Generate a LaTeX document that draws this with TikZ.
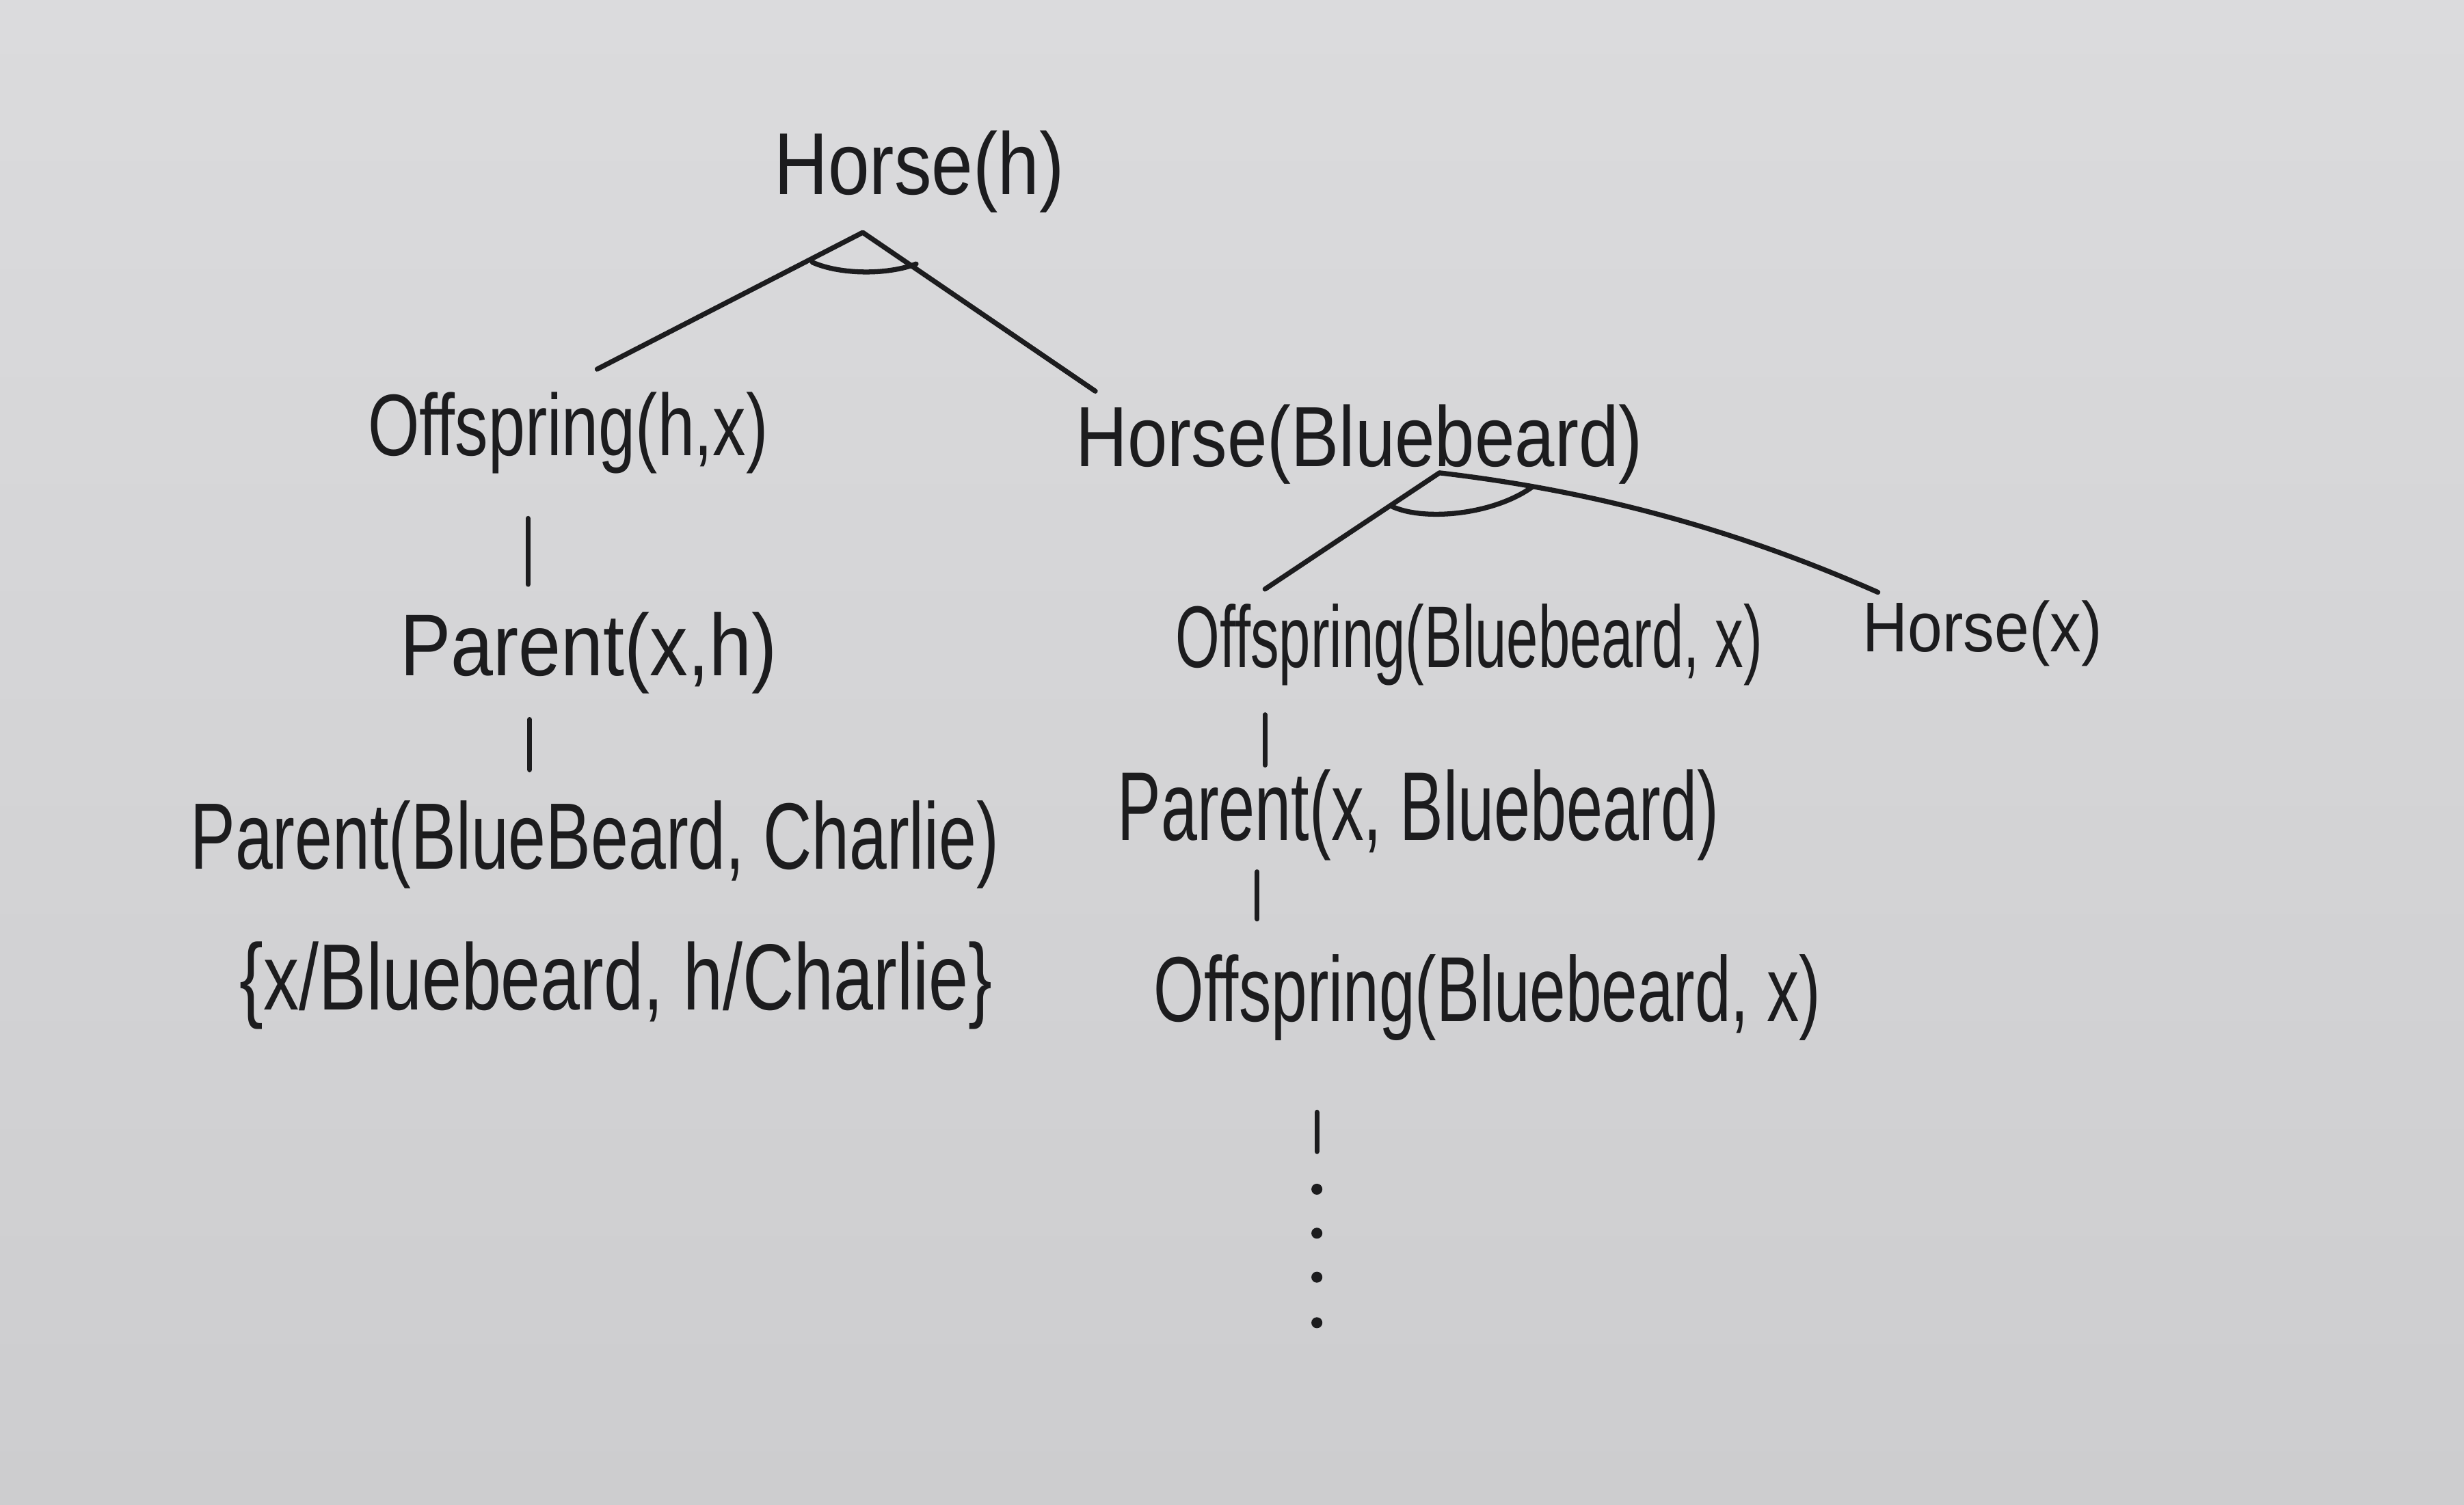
\documentclass[tikz,border=0pt]{standalone}
\usepackage{fontspec}
\setmainfont{Liberation Sans}
\usepackage{graphicx}
\definecolor{ink}{RGB}{28,28,30}
\definecolor{paperTop}{RGB}{219,219,221}
\definecolor{paperBot}{RGB}{205,205,207}
\newcommand{\hw}[3]{\fontsize{#1}{#1}\selectfont\scalebox{1}[#2]{#3}}
\begin{document}
\begin{tikzpicture}[
  lbl/.style={inner sep=0pt, anchor=base, text=ink},
  edge/.style={draw=ink, line width=0.9pt, line cap=round, line join=round},
  dotmark/.style={circle, fill=ink, inner sep=0pt, minimum size=0.7mm}
]
\shade[top color=paperTop, bottom color=paperBot] (0,0) rectangle (15.68,9.58);
\useasboundingbox (0,0) rectangle (15.68,9.58);

% text nodes
\node[lbl] (hA)  at (5.85, 8.34)   {\hw{13.5}{1.18}{Horse(h)}};
\node[lbl] (oA)  at (3.615, 6.68)  {\hw{12}{1.32}{Offspring(h,x)}};
\node[lbl] (hB)  at (8.65, 6.61)   {\hw{13}{1.19}{Horse(Bluebeard)}};
\node[lbl] (pA)  at (3.745, 5.28)  {\hw{13.8}{1.15}{Parent(x,h)}};
\node[lbl] (pB)  at (3.785, 4.05)  {\hw{12.2}{1.4}{Parent(BlueBeard, Charlie)}};
\node[lbl] (sub) at (3.92, 3.15)   {\hw{12.9}{1.32}{\{x/Bluebeard, h/Charlie\}}};
\node[lbl] (oB)  at (9.35, 5.33)   {\hw{10.3}{1.54}{Offspring(Bluebeard, x)}};
\node[lbl] (hX)  at (12.615, 5.43) {\hw{11.3}{1.13}{Horse(x)}};
\node[lbl] (pC)  at (9.025, 4.23)  {\hw{11.8}{1.5}{Parent(x, Bluebeard)}};
\node[lbl] (oC)  at (9.465, 3.08)  {\hw{11.7}{1.43}{Offspring(Bluebeard, x)}};

% connector end points
\coordinate (apexA) at (5.49, 8.10);
\coordinate (endAL) at (3.80, 7.23);
\coordinate (endAR) at (6.97, 7.09);
\coordinate (arcA1) at (5.17, 7.91);
\coordinate (arcA2) at (5.83, 7.90);

\coordinate (apexB) at (9.16, 6.57);
\coordinate (endBL) at (8.05, 5.83);
\coordinate (endBR) at (11.95, 5.81);
\coordinate (arcB1) at (8.85, 6.36);
\coordinate (arcB2) at (9.75, 6.48);

\coordinate (v1t) at (3.36, 6.28); \coordinate (v1b) at (3.36, 5.86);
\coordinate (v2t) at (3.37, 5.00); \coordinate (v2b) at (3.37, 4.68);
\coordinate (v3t) at (8.05, 5.03); \coordinate (v3b) at (8.05, 4.71);
\coordinate (v4t) at (8.00, 4.03); \coordinate (v4b) at (8.00, 3.73);
\coordinate (v5t) at (8.38, 2.50); \coordinate (v5b) at (8.38, 2.25);

% top AND split
\draw[edge] (endAL) -- (apexA) -- (endAR);
\draw[edge] (arcA1) .. controls (5.35,7.83) and (5.65,7.83) .. (arcA2);

% Horse(Bluebeard) AND split
\draw[edge] (endBL) -- (apexB) .. controls (10.10,6.46) and (11.00,6.23) .. (endBR);
\draw[edge] (arcB1) .. controls (9.05,6.26) and (9.50,6.30) .. (arcB2);

% vertical links
\draw[edge] (v1t) -- (v1b);
\draw[edge] (v2t) -- (v2b);
\draw[edge] (v3t) -- (v3b);
\draw[edge] (v4t) -- (v4b);
\draw[edge] (v5t) -- (v5b);

% continuation dots
\node[dotmark] (d1) at (8.38, 2.01) {};
\node[dotmark] (d2) at (8.38, 1.73) {};
\node[dotmark] (d3) at (8.38, 1.45) {};
\node[dotmark] (d4) at (8.38, 1.16) {};
\end{tikzpicture}
\end{document}
